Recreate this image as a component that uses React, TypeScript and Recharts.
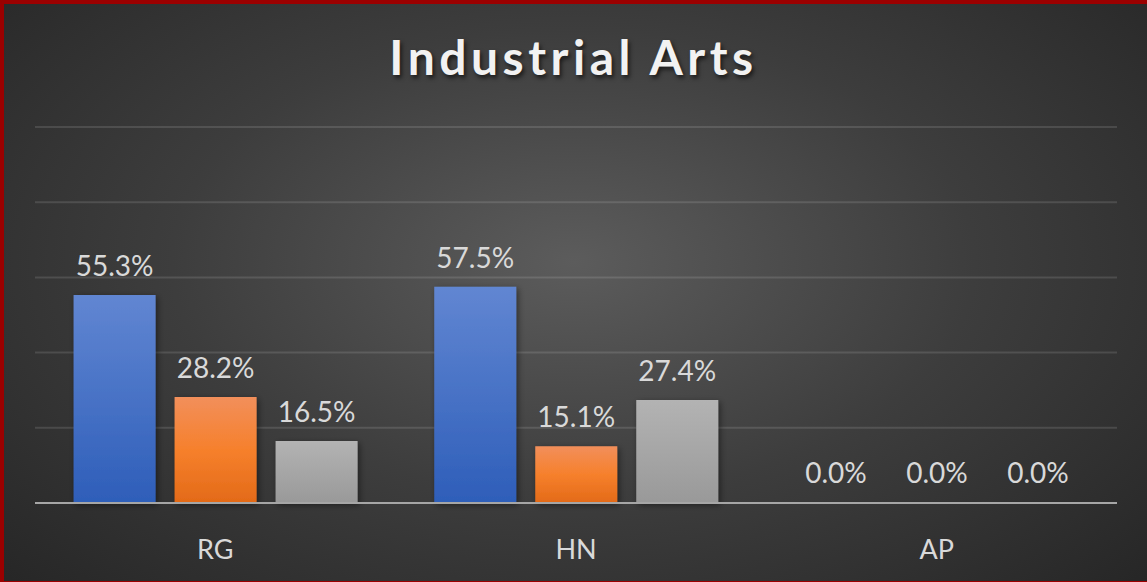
import React from "react";
import { BarChart, Bar, XAxis, YAxis, CartesianGrid, LabelList } from "recharts";

const categories = ["RG", "HN", "AP"];
const seriesA = [0.553, 0.575, 0];
const seriesB = [0.282, 0.151, 0];
const seriesC = [0.165, 0.274, 0];
const yTicks = [0, 0.2, 0.4, 0.6, 0.8, 1];

const rows = categories.map((c, i) => ({ cat: c, a: seriesA[i], b: seriesB[i], c: seriesC[i] }));

const pct = (v: any) => `${(Number(v) * 100).toFixed(1)}%`;
const FONT = "Lato, 'Open Sans', sans-serif";

export default function App() {
  const label = { fill: "#d9d9d9", fontSize: 28, fontFamily: FONT };
  return (
    <div
      style={{
        position: "absolute", left: 0, top: 0, width: 1147, height: 582, overflow: "hidden",
        background: "radial-gradient(ellipse 70% 80% at 50% 45%, #5c5c5c 0%, #3d3d3d 50%, #262626 100%)",
        boxShadow: "inset 4px 4px 0 #9b0000, inset 0 -1px 0 #9b0000",
      }}
    >
      <div
        style={{
          position: "absolute", left: 0, top: 28, width: 1147, textAlign: "center",
          fontFamily: FONT, fontWeight: 700, fontSize: 48, letterSpacing: 4.5, color: "#f2f2f2",
          textShadow: "2px 3px 4px rgba(0,0,0,0.6)",
        }}
      >
        Industrial Arts
      </div>
      <BarChart
        width={1147} height={582} data={rows}
        margin={{ top: 127, right: 30, left: 35, bottom: 49 }}
        barGap={19} barCategoryGap="10.7%"
      >
        <defs>
          <linearGradient id="gA" x1="0" y1="0" x2="0" y2="1">
            <stop offset="0%" stopColor="#6186d2" />
            <stop offset="100%" stopColor="#2e5eb9" />
          </linearGradient>
          <linearGradient id="gB" x1="0" y1="0" x2="0" y2="1">
            <stop offset="0%" stopColor="#f28f5b" />
            <stop offset="50%" stopColor="#f6802c" />
            <stop offset="100%" stopColor="#e36a18" />
          </linearGradient>
          <linearGradient id="gC" x1="0" y1="0" x2="0" y2="1">
            <stop offset="0%" stopColor="#b3b3b3" />
            <stop offset="100%" stopColor="#999999" />
          </linearGradient>
          <filter id="shadow" x="-20%" y="-20%" width="140%" height="140%">
            <feDropShadow dx="2" dy="2" stdDeviation="3" floodColor="#000" floodOpacity="0.45" />
          </filter>
        </defs>
        <CartesianGrid vertical={false} stroke="#ffffff" strokeOpacity={0.12} strokeWidth={2} />
        <YAxis hide domain={[0, 1]} ticks={yTicks} />
        <XAxis
          dataKey="cat" tickLine={false} tickMargin={31} height={30}
          axisLine={{ stroke: "#a6a6a6", strokeWidth: 2 }}
          tick={{ fill: "#d9d9d9", fontSize: 27, fontFamily: FONT }}
        />
        <Bar dataKey="a" fill="url(#gA)" filter="url(#shadow)" minPointSize={1} isAnimationActive={false}>
          <LabelList dataKey="a" position="top" offset={19} formatter={pct} style={label} />
        </Bar>
        <Bar dataKey="b" fill="url(#gB)" filter="url(#shadow)" minPointSize={1} isAnimationActive={false}>
          <LabelList dataKey="b" position="top" offset={19} formatter={pct} style={label} />
        </Bar>
        <Bar dataKey="c" fill="url(#gC)" filter="url(#shadow)" minPointSize={1} isAnimationActive={false}>
          <LabelList dataKey="c" position="top" offset={19} formatter={pct} style={label} />
        </Bar>
      </BarChart>
    </div>
  );
}
